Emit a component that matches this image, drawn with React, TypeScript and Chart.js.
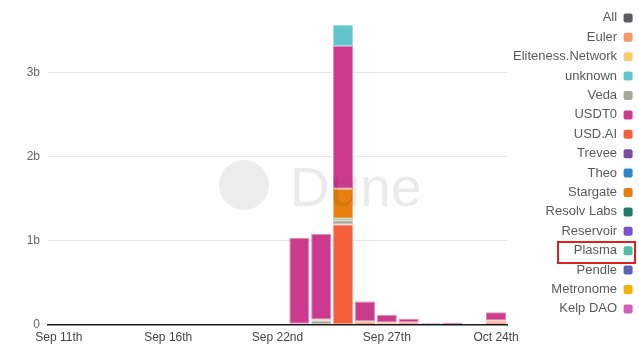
import React, { useEffect, useRef } from "react";
import { Chart, registerables } from "chart.js";

Chart.register(...registerables);

// Categories (dates that have rows); only every 5th label is shown on the axis
const categories = [
  "Sep 11th", "Sep 12th", "Sep 13th", "Sep 14th", "Sep 15th", "Sep 16th",
  "Sep 17th", "Sep 18th", "Sep 19th", "Sep 21st", "Sep 22nd",
  "Sep 23rd", "Sep 24th", "Sep 25th", "Sep 26th", "Sep 27th",
  "Sep 28th", "Sep 30th", "Oct 5th", "Oct 14th", "Oct 24th",
];

// Values in billions
const z11 = [0, 0, 0, 0, 0, 0, 0, 0, 0, 0, 0];
const allVals = [...z11, 0, 0, 0, 0, 0, 0, 0, 0, 0, 0];
const eulerVals = [...z11, 0, 0, 0, 0.02, 0, 0, 0, 0, 0, 0.02];
const elitenessVals = [...z11, 0, 0, 0, 0, 0, 0, 0, 0, 0, 0];
const unknownVals = [...z11, 0, 0, 0.25, 0, 0, 0, 0, 0, 0, 0];
const vedaVals = [...z11, 0, 0.05, 0.05, 0, 0, 0, 0, 0, 0, 0];
const usdt0Vals = [...z11, 1.02, 1.02, 1.70, 0.235, 0.09, 0.045, 0.015, 0.022, 0.004, 0.10];
const usdaiVals = [...z11, 0.01, 0, 1.19, 0.02, 0.01, 0.025, 0, 0, 0, 0.028];
const treveeVals = [...z11, 0, 0, 0, 0, 0, 0, 0, 0, 0, 0];
const theoVals = [...z11, 0, 0, 0, 0, 0, 0, 0, 0, 0, 0];
const stargateVals = [...z11, 0, 0.01, 0.355, 0, 0.015, 0, 0, 0, 0, 0];
const resolvVals = [...z11, 0, 0, 0, 0, 0, 0, 0, 0, 0, 0];
const reservoirVals = [...z11, 0, 0, 0, 0, 0, 0, 0, 0, 0, 0];
const plasmaVals = [...z11, 0, 0, 0.02, 0, 0, 0, 0, 0, 0, 0];
const pendleVals = [...z11, 0, 0, 0, 0.008, 0, 0, 0, 0, 0, 0];
const metronomeVals = [...z11, 0, 0, 0, 0, 0, 0, 0, 0, 0, 0];
const kelpVals = [...z11, 0, 0, 0, 0, 0, 0, 0, 0, 0, 0];

const seriesNames = [
  "All", "Euler", "Eliteness.Network", "unknown", "Veda", "USDT0", "USD.AI",
  "Trevee", "Theo", "Stargate", "Resolv Labs", "Reservoir", "Plasma",
  "Pendle", "Metronome", "Kelp DAO",
];
const seriesValues = [
  allVals, eulerVals, elitenessVals, unknownVals, vedaVals, usdt0Vals, usdaiVals,
  treveeVals, theoVals, stargateVals, resolvVals, reservoirVals, plasmaVals,
  pendleVals, metronomeVals, kelpVals,
];
const seriesColors = [
  "#5b5b63", "#f7956a", "#f6cd6a", "#62c4cc", "#a5a797", "#cc3a8e", "#f5603c",
  "#7a4ba0", "#2c86c8", "#e8800f", "#237a6a", "#7b52d1", "#4cc0a2",
  "#5a64b0", "#f2b300", "#d35fb7",
];
// stacking position (bottom first)
const stackOrder = [
  "USD.AI", "Euler", "Veda", "Plasma", "Stargate", "USDT0", "Pendle", "unknown",
];
const yTicks = [0, 1, 2, 3];
const yMax = 3.68;

function lighten(hex: string, amt: number) {
  const n = parseInt(hex.slice(1), 16);
  const r = (n >> 16) & 255, g = (n >> 8) & 255, b = n & 255;
  const m = (c: number) => Math.round(c + (255 - c) * amt);
  return `rgb(${m(r)},${m(g)},${m(b)})`;
}

export default function App() {
  const ref = useRef<HTMLCanvasElement | null>(null);
  useEffect(() => {
    if (!ref.current) return;
    const datasets = seriesNames.map((name, i) => {
      const so = stackOrder.indexOf(name);
      return {
        label: name,
        data: seriesValues[i],
        backgroundColor: seriesColors[i],
        borderColor: lighten(seriesColors[i], 0.4),
        borderWidth: 1,
        borderSkipped: false as const,
        order: so >= 0 ? so : stackOrder.length + i,
        categoryPercentage: 1,
        barPercentage: 0.92,
      };
    });
    const chart = new Chart(ref.current, {
      type: "bar",
      data: { labels: categories, datasets },
      options: {
        animation: false,
        responsive: true,
        maintainAspectRatio: false,
        layout: { padding: { top: 5, right: 0, left: 0, bottom: -4 } },
        plugins: {
          tooltip: { enabled: false },
          legend: {
            position: "right",
            align: "start",
            rtl: true,
            maxWidth: 132,
            labels: {
              boxWidth: 9,
              boxHeight: 9,
              useBorderRadius: true,
              borderRadius: 2,
              padding: 6.4,
              color: "#5a5a5a",
              font: { size: 13, family: "'Liberation Sans', Arial, sans-serif" },
              sort: (a: any, b: any) => a.datasetIndex - b.datasetIndex,
              generateLabels: (c: any) =>
                c.data.datasets.map((ds: any, i: number) => ({
                  text: ds.label,
                  fillStyle: seriesColors[i],
                  strokeStyle: seriesColors[i],
                  lineWidth: 0,
                  hidden: false,
                  datasetIndex: i,
                  fontColor: "#5a5a5a",
                  borderRadius: 2,
                })),
            },
          },
        },
        scales: {
          x: {
            stacked: true,
            grid: { display: false, drawTicks: false },
            border: { display: true, color: "#1a1a1a", width: 1.5 },
            ticks: {
              autoSkip: false,
              maxRotation: 0,
              padding: 6,
              color: "#444",
              font: { size: 12, family: "'Liberation Sans', Arial, sans-serif" },
              callback: (_v: any, i: number) => (i % 5 === 0 ? categories[i] : ""),
            },
          },
          y: {
            stacked: true,
            min: 0,
            max: yMax,
            afterFit: (axis: any) => {
              axis.width = 48;
            },
            afterBuildTicks: (axis: any) => {
              axis.ticks = yTicks.map((v) => ({ value: v }));
            },
            grid: { color: "#e6e6e6", drawTicks: false },
            border: { display: false },
            ticks: {
              padding: 8,
              color: "#666",
              font: { size: 12, family: "'Liberation Sans', Arial, sans-serif" },
              callback: (v: any) => (v === 0 ? "0" : `${v}b`),
            },
          },
        },
      },
    });
    return () => chart.destroy();
  }, []);

  return (
    <div style={{ position: "fixed", left: 0, top: 0, width: 639, height: 347, background: "#fff" }}>
      <canvas ref={ref} />
      <div
        style={{
          position: "absolute", left: 219, top: 160, width: 50, height: 50,
          borderRadius: "50%", background: "rgba(0,0,0,0.07)", pointerEvents: "none",
        }}
      />
      <div
        style={{
          position: "absolute", left: 290, top: 160, fontSize: 55, lineHeight: "55px",
          fontFamily: "'Liberation Sans', Arial, sans-serif", color: "rgba(0,0,0,0.08)",
          pointerEvents: "none",
        }}
      >
        Dune
      </div>
      <div
        style={{
          position: "absolute", left: 557, top: 241, width: 75, height: 19,
          border: "2px solid #e0201e", pointerEvents: "none",
        }}
      />
    </div>
  );
}
